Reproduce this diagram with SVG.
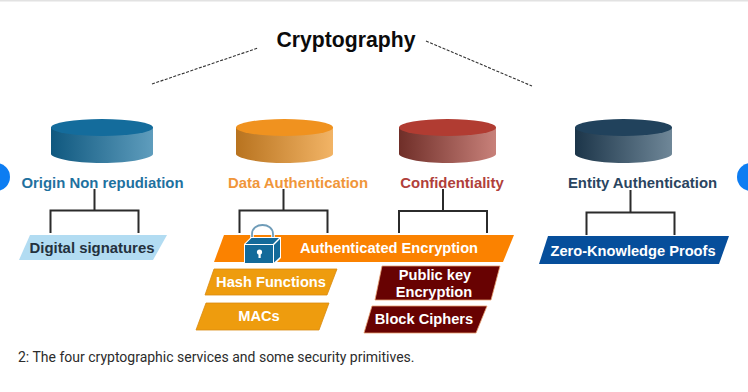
<svg xmlns="http://www.w3.org/2000/svg" width="748" height="392" viewBox="0 0 748 392">
<defs>
<linearGradient id="gBlue"><stop offset="0" stop-color="#0f587f"/><stop offset="1" stop-color="#5f9dbd"/></linearGradient>
<linearGradient id="gOrange"><stop offset="0" stop-color="#b8731f"/><stop offset="1" stop-color="#f2b466"/></linearGradient>
<linearGradient id="gRed"><stop offset="0" stop-color="#6f2e28"/><stop offset="1" stop-color="#c8817a"/></linearGradient>
<linearGradient id="gNavy"><stop offset="0" stop-color="#1c3549"/><stop offset="1" stop-color="#6f8798"/></linearGradient>
</defs>
<style>
text{font-family:"Liberation Sans",Arial,sans-serif;font-weight:bold;text-anchor:middle}
.svc{font-size:14.9px}
.prim{font-size:14.65px;fill:#fff}
.tree{fill:none;stroke:#2b2b2b;stroke-width:2}
.dash{fill:none;stroke:#333;stroke-width:1.1;stroke-dasharray:3 1.5}
</style>
<rect width="748" height="392" fill="#fff"/>
<rect width="748" height="1.500" fill="#e2e2e2"/>
<circle cx="-4" cy="177" r="14" fill="#0d7df2"/>
<circle cx="751" cy="177" r="14" fill="#0d7df2"/>

<g id="connectors">
<path class="dash" d="M152 84L258 48"/>
<path class="dash" d="M426 41L532 86"/>
<path class="tree" d="M94.500 189V210M50.500 233V210.500H138.500V233"/>
<path class="tree" d="M283.500 189V210M239.500 233V210.500H327.500V233"/>
<path class="tree" d="M443 189V211M399 233V211H487V233"/>
<path class="tree" d="M630.500 190V212M586.500 235V212.500H674.500V235"/>
</g>

<g id="title"><text x="346" y="47" font-size="21.200px" fill="#0b0b0b">Cryptography</text></g>

<g id="origin">
<path d="M51 127V154C51 158 73 163 102 163S153 158 153 154V127Z" fill="url(#gBlue)"/>
<ellipse cx="102" cy="127.500" rx="51" ry="8.500" fill="#146c9c"/>
<text class="svc" x="102.500" y="188" fill="#1f719f">Origin Non repudiation</text>
</g>
<g id="data-auth">
<path d="M236 127V154C236 158 258 163 285 163S333 158 333 154V127Z" fill="url(#gOrange)"/>
<ellipse cx="284.500" cy="127.500" rx="48.500" ry="8.500" fill="#f0921f"/>
<text class="svc" x="298" y="188" fill="#f0963a">Data Authentication</text>
</g>
<g id="confidentiality">
<path d="M399 127V154C399 158 420 163 447.500 163S496 158 496 154V127Z" fill="url(#gRed)"/>
<ellipse cx="447.500" cy="127.500" rx="48.500" ry="8.500" fill="#b13c32"/>
<text class="svc" x="452" y="188" fill="#b0403a">Confidentiality</text>
</g>
<g id="entity-auth">
<path d="M575 127V154C575 158 596 163 623.500 163S672 158 672 154V127Z" fill="url(#gNavy)"/>
<ellipse cx="623.500" cy="127.500" rx="48.500" ry="8.500" fill="#21425c"/>
<text class="svc" x="642.500" y="188" fill="#2a4560">Entity Authentication</text>
</g>

<g id="digital-signatures">
<polygon points="30,235 167,235 153,260 19,260" fill="#b2dcf2"/>
<text class="svc" x="92" y="253" fill="#24313d">Digital signatures</text>
</g>
<g id="authenticated-encryption">
<polygon points="224,235 514,235 503,262 214,262" fill="#fb8200"/>
<text class="prim" x="389" y="253">Authenticated Encryption</text>
<g id="lock">
<path d="M252 240V234C252 222 273 222 273 234V240" fill="none" stroke="#fff" stroke-width="3.500"/>
<path d="M252 240V234C252 222 273 222 273 234V240" fill="none" stroke="#6f9cb8" stroke-width="1.800"/>
<path d="M244 244L251 237H281V258L275 264H244Z" fill="#fff"/>
<path d="M245.500 244L251.500 238H279L273 244Z" fill="#136a9a"/>
<rect x="245" y="245" width="28" height="18" fill="#136a9a"/>
<path d="M274 245L280 239V257L274 262.500Z" fill="#136a9a"/>
<circle cx="259.500" cy="252" r="2.600" fill="#fff"/><rect x="258.500" y="252" width="2.200" height="6" fill="#fff"/>
</g>
</g>
<g id="hash-functions">
<polygon points="214,269 337,269 327,295 205,295" fill="#ee9c0e" stroke="#d98a10" stroke-width="0.800"/>
<text class="prim" x="271" y="287">Hash Functions</text>
</g>
<g id="macs">
<polygon points="206,303 329,303 319,330 196,330" fill="#ee9c0e" stroke="#d98a10" stroke-width="0.800"/>
<text class="prim" x="259" y="321">MACs</text>
</g>
<g id="public-key">
<polygon points="382,266 500,266 491,300 375,300" fill="#680202" stroke="#e8a070" stroke-width="0.800"/>
<text class="prim" x="435" y="280">Public key</text>
<text class="prim" x="434" y="297">Encryption</text>
</g>
<g id="block-ciphers">
<polygon points="372,306 487,306 476,333 364,333" fill="#680202" stroke="#e8a070" stroke-width="0.800"/>
<text class="prim" x="424" y="324">Block Ciphers</text>
</g>
<g id="zk-proofs">
<polygon points="548,236 729,236 719,264 539,264" fill="#064e9b"/>
<text class="prim" x="633" y="256">Zero-Knowledge Proofs</text>
</g>

<text x="18" y="362" font-size="14px" fill="#2c2c2c" style="font-family:Roboto,sans-serif;font-weight:400;text-anchor:start">2: The four cryptographic services and some security primitives.</text>
</svg>
